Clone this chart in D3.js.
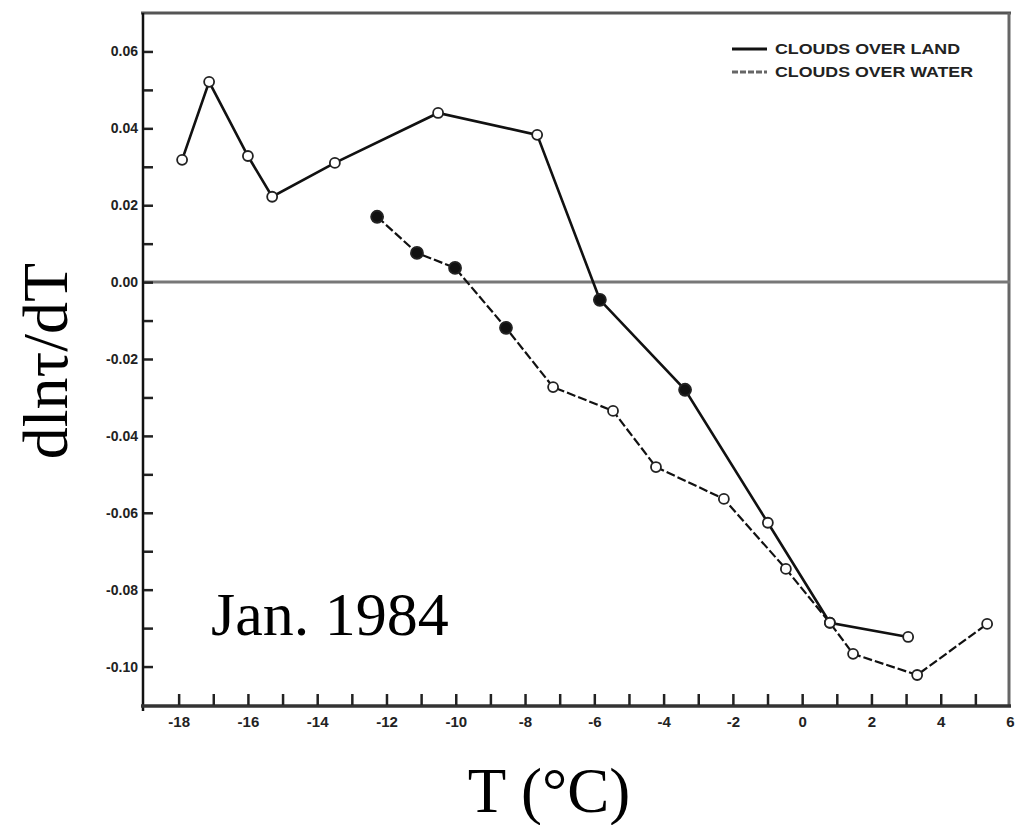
<!DOCTYPE html>
<html>
<head>
<meta charset="utf-8">
<script src="https://cdn.jsdelivr.net/npm/d3@7"></script>
<style>
body { margin: 0; background: #fff; }
</style>
</head>
<body>
<div id="chart"></div>
<script>
// dln(tau)/dT against temperature
const landT = [-17.9, -17.12, -16.0, -15.3, -13.49, -10.51, -7.65, -5.84, -3.38, -0.99, 0.8, 3.06];
const landV = [0.0318, 0.0521, 0.0328, 0.0222, 0.0310, 0.0440, 0.0383, -0.0046, -0.0280, -0.0626, -0.0886, -0.0923];
const landFilled = [false, false, false, false, false, false, false, true, true, false, false, false];

const waterT = [-12.27, -11.12, -10.02, -8.55, -7.19, -5.46, -4.22, -2.26, -0.47, 0.8, 1.47, 3.32, 5.34];
const waterV = [0.0170, 0.0076, 0.0037, -0.0119, -0.0273, -0.0335, -0.0481, -0.0564, -0.0746, -0.0886, -0.0967, -0.1022, -0.0889];
const waterFilled = [true, true, true, true, false, false, false, false, false, false, false, false, false];

const xTickLabels = [-18, -16, -14, -12, -10, -8, -6, -4, -2, 0, 2, 4, 6];
const xMinorTicks = [-18, -17, -16, -15, -14, -13, -12, -11, -10, -9, -8, -7, -6, -5, -4, -3, -2, -1, 0, 1, 2, 3, 4, 5];
const yTickLabels = [0.06, 0.04, 0.02, 0.00, -0.02, -0.04, -0.06, -0.08, -0.10];
const yMinorTicks = [0.06, 0.05, 0.04, 0.03, 0.02, 0.01, 0.00, -0.01, -0.02, -0.03, -0.04, -0.05, -0.06, -0.07, -0.08, -0.09, -0.10];
const legendLabels = ["CLOUDS OVER LAND", "CLOUDS OVER WATER"];

const width = 1028, height = 825;
const plot = { left: 144, right: 1010, top: 13, bottom: 705 };

const svg = d3.select("#chart")
    .append("svg")
    .attr("width", width)
    .attr("height", height);

// Scales
const x = d3.scaleLinear().domain([-19, 6]).range([plot.left, plot.right]);
const y = d3.scaleLinear().domain([0.07, -0.11]).range([plot.top, plot.bottom]);

// Frame
svg.append("line").attr("x1", plot.left - 3).attr("x2", plot.right + 1).attr("y1", plot.top).attr("y2", plot.top)
    .attr("stroke", "#555").attr("stroke-width", 3);
svg.append("line").attr("x1", plot.right - 1).attr("x2", plot.right - 1).attr("y1", plot.top).attr("y2", plot.bottom)
    .attr("stroke", "#666").attr("stroke-width", 3);
svg.append("line").attr("x1", plot.left - 1).attr("x2", plot.left - 1).attr("y1", plot.top).attr("y2", plot.bottom + 6)
    .attr("stroke", "#111").attr("stroke-width", 2.5);
svg.append("line").attr("x1", plot.left - 3).attr("x2", plot.right + 1).attr("y1", plot.bottom + 1).attr("y2", plot.bottom + 1)
    .attr("stroke", "#333").attr("stroke-width", 3.5);

// Zero line
svg.append("line").attr("x1", plot.left).attr("x2", plot.right).attr("y1", y(0)).attr("y2", y(0))
    .attr("stroke", "#777").attr("stroke-width", 3);

// Minor ticks (inward)
const xMinor = svg.append("g")
    .attr("transform", `translate(0,${plot.bottom})`)
    .call(d3.axisTop(x).tickValues(xMinorTicks).tickSize(11).tickFormat(""));
xMinor.select(".domain").remove();
xMinor.selectAll("line").attr("stroke", "#222").attr("stroke-width", 2.5);

const yMinor = svg.append("g")
    .attr("transform", `translate(${plot.left},0)`)
    .call(d3.axisRight(y).tickValues(yMinorTicks).tickSize(9).tickFormat(""));
yMinor.select(".domain").remove();
yMinor.selectAll("line").attr("stroke", "#222").attr("stroke-width", 2.5);

// Tick labels
const xAxis = svg.append("g")
    .attr("transform", `translate(0,${plot.bottom})`)
    .call(d3.axisBottom(x).tickValues(xTickLabels).tickSize(0).tickPadding(11).tickFormat(d => d3.format("d")(d).replace("−", "-")));
xAxis.select(".domain").remove();
xAxis.selectAll("text")
    .attr("font-family", "Liberation Sans, Arial, sans-serif")
    .attr("font-size", 15)
    .attr("font-weight", "bold")
    .attr("fill", "#222");

const yAxis = svg.append("g")
    .attr("transform", `translate(${plot.left},0)`)
    .call(d3.axisLeft(y).tickValues(yTickLabels).tickSize(0).tickPadding(6).tickFormat(d => d3.format(".2f")(d).replace("−", "-")));
yAxis.select(".domain").remove();
yAxis.selectAll("text")
    .attr("font-family", "Liberation Sans, Arial, sans-serif")
    .attr("font-size", 14)
    .attr("font-weight", "bold")
    .attr("fill", "#222");

// Lines
const line = d3.line().x(d => x(d.t)).y(d => y(d.v));
const land = landT.map((t, i) => ({ t: t, v: landV[i], filled: landFilled[i] }));
const water = waterT.map((t, i) => ({ t: t, v: waterV[i], filled: waterFilled[i] }));

svg.append("path").datum(water).attr("d", line)
    .attr("fill", "none").attr("stroke", "#111").attr("stroke-width", 2.2)
    .attr("stroke-dasharray", "9,3");
svg.append("path").datum(land).attr("d", line)
    .attr("fill", "none").attr("stroke", "#111").attr("stroke-width", 2.6);

// Markers
[water, land].forEach(series => {
    svg.append("g").selectAll("circle")
        .data(series)
        .enter()
        .append("circle")
        .attr("cx", d => x(d.t))
        .attr("cy", d => y(d.v))
        .attr("r", d => d.filled ? 6 : 5)
        .attr("fill", d => d.filled ? "#111" : "#fff")
        .attr("stroke", "#222")
        .attr("stroke-width", 1.8);
});

// Legend
const legend = svg.append("g");
legendLabels.forEach((label, i) => {
    const ly = 49 + i * 23;
    legend.append("line")
        .attr("x1", 732).attr("x2", 767).attr("y1", ly).attr("y2", ly)
        .attr("stroke", i === 0 ? "#111" : "#666")
        .attr("stroke-width", 3)
        .attr("stroke-dasharray", i === 0 ? null : "6,2");
    legend.append("text")
        .attr("x", 775).attr("y", ly + 5)
        .attr("font-family", "Liberation Sans, Arial, sans-serif")
        .attr("font-size", 14)
        .attr("font-weight", "bold")
        .attr("fill", "#222")
        .attr("textLength", i === 0 ? 185 : 198)
        .attr("lengthAdjust", "spacingAndGlyphs")
        .text(label);
});

// Titles
svg.append("text")
    .attr("transform", "translate(67,361) rotate(-90)")
    .attr("text-anchor", "middle")
    .attr("font-family", "Liberation Serif, Times New Roman, serif")
    .attr("font-size", 64)
    .attr("fill", "#000")
    .text("dlnτ/dT");

svg.append("text")
    .attr("x", 549).attr("y", 812)
    .attr("text-anchor", "middle")
    .attr("font-family", "Liberation Serif, Times New Roman, serif")
    .attr("font-size", 63)
    .attr("fill", "#000")
    .text("T (°C)");

svg.append("text")
    .attr("x", 211).attr("y", 635)
    .attr("font-family", "Liberation Serif, Times New Roman, serif")
    .attr("font-size", 62)
    .attr("fill", "#000")
    .text("Jan. 1984");
</script>
</body>
</html>
